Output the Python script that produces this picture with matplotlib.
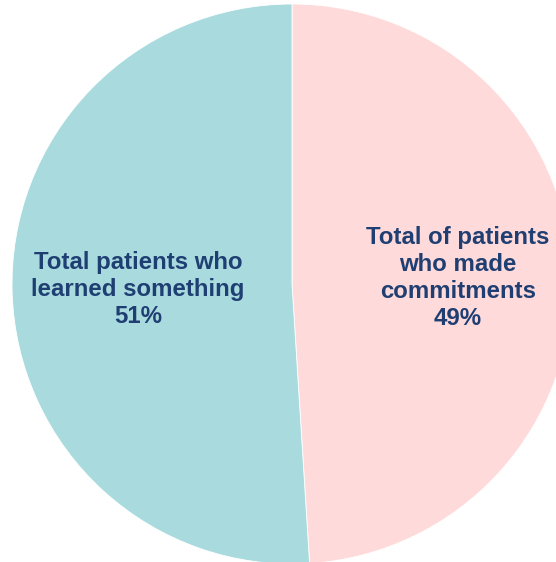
import matplotlib
matplotlib.use("Agg")
import matplotlib.pyplot as plt

# Share of patients by outcome (percent)
categories = ["Total of patients\nwho made\ncommitments", "Total patients who\nlearned something"]
values = [49, 51]
colors = ["#FFDADA", "#A9DBDE"]
label_pos = [(0.593, 0.021), (-0.55, -0.02)]

fig = plt.figure(figsize=(5.56, 5.62), dpi=100)
ax = fig.add_axes([0, 0, 1, 1])

ax.pie(values, colors=colors, startangle=90, counterclock=False,
       radius=1.0, center=(0, 0),
       wedgeprops=dict(edgecolor="white", linewidth=0.6))

for cat, val, (x, y) in zip(categories, values, label_pos):
    ax.text(x, y, f"{cat}\n{val}%", ha="center", va="center",
            fontsize=17.3, fontweight="bold", color="#1F3F73",
            family="Liberation Sans", linespacing=1.21)

ax.set_xlim(-292 / 280, (556 - 292) / 280)
ax.set_ylim(-(562 - 284) / 280, 284 / 280)
ax.set_aspect("auto")
ax.axis("off")

fig.savefig("out.png", dpi=100, facecolor="white")
